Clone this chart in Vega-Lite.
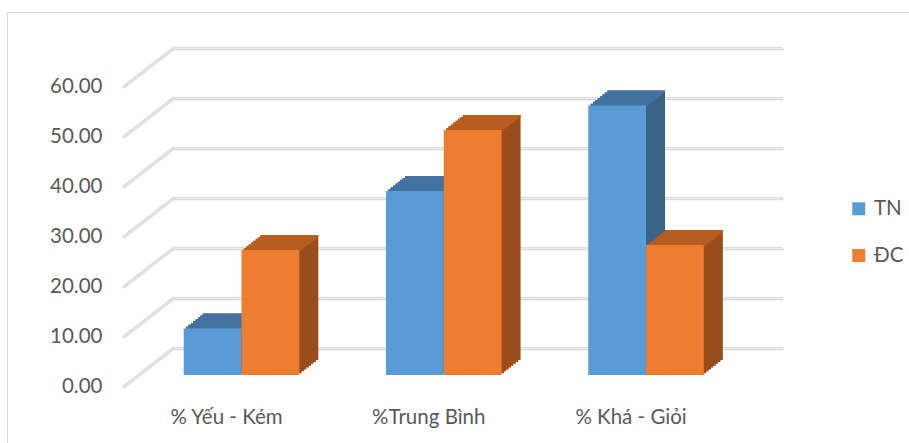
{
  "$schema": "https://vega.github.io/schema/vega-lite/v6.json",
  "autosize": "none",
  "width": 902,
  "height": 431,
  "padding": {"left": 7, "top": 12, "right": 0, "bottom": 0},
  "background": "#ffffff",
  "config": {
    "font": "Lato",
    "view": {"stroke": "#d9d9d9", "strokeWidth": 1},
    "axis": {"labelFont": "Lato", "labelFontSize": 20.5, "labelColor": "#595959", "domain": false, "ticks": false, "tickSize": 0, "grid": false}
  },
  "datasets": {
    "bars": [
      {"category": "% Yếu - Kém", "series": "TN", "value": 9.3},
      {"category": "%Trung Bình", "series": "TN", "value": 36.8},
      {"category": "% Khá - Giỏi", "series": "TN", "value": 53.9},
      {"category": "% Yếu - Kém", "series": "ĐC", "value": 25.0},
      {"category": "%Trung Bình", "series": "ĐC", "value": 49.0},
      {"category": "% Khá - Giỏi", "series": "ĐC", "value": 26.0}
    ],
    "grid": [
      {"value": 0}, {"value": 10}, {"value": 20}, {"value": 30}, {"value": 40}, {"value": 50}, {"value": 60}
    ]
  },
  "data": {"name": "bars"},
  "encoding": {
    "x": {
      "field": "category", "type": "nominal",
      "scale": {"domain": ["% Yếu - Kém", "%Trung Bình", "% Khá - Giỏi"], "paddingInner": 0.4286, "paddingOuter": 0.944, "align": 0.4235},
      "axis": {"orient": "bottom", "offset": -35.2, "labelPadding": 0, "labelAngle": 0, "title": null}
    },
    "y": {
      "field": "value", "type": "quantitative",
      "scale": {"domain": [-11.26, 74.94], "nice": false, "zero": false},
      "axis": {"orient": "left", "offset": -95, "labelPadding": 0, "values": [0, 10, 20, 30, 40, 50, 60], "format": ".2f", "title": null}
    }
  },
  "layer": [
    {"data": {"name": "grid"}, "mark": {"type": "rule", "xOffset": -53.5, "x2Offset": 151, "yOffset": -38, "stroke": "#d3d3d3", "strokeWidth": 3, "strokeCap": "round"},
     "encoding": {"x": {"datum": "% Yếu - Kém", "type": "nominal", "axis": {"orient": "bottom", "offset": -35.2, "labelPadding": 0, "labelAngle": 0, "title": null}}, "x2": {"datum": "% Khá - Giỏi"}}},
    {"data": {"name": "grid"}, "mark": {"type": "rule", "xOffset": -53.5, "x2Offset": 151, "yOffset": -38, "stroke": "#ededed", "strokeWidth": 1.2, "strokeCap": "round"},
     "encoding": {"x": {"datum": "% Yếu - Kém", "type": "nominal", "axis": {"orient": "bottom", "offset": -35.2, "labelPadding": 0, "labelAngle": 0, "title": null}}, "x2": {"datum": "% Khá - Giỏi"}}},
    {"data": {"name": "grid"}, "mark": {"type": "rule", "xOffset": -102.5, "x2Offset": -53.5, "y2Offset": -38, "stroke": "#d3d3d3", "strokeWidth": 3, "strokeCap": "round"},
     "encoding": {"x": {"datum": "% Yếu - Kém", "type": "nominal", "axis": {"orient": "bottom", "offset": -35.2, "labelPadding": 0, "labelAngle": 0, "title": null}}, "x2": {"datum": "% Yếu - Kém"}, "y2": {"field": "value"}}},
    {"data": {"name": "grid"}, "mark": {"type": "rule", "xOffset": -102.5, "x2Offset": -53.5, "y2Offset": -38, "stroke": "#ededed", "strokeWidth": 1.2, "strokeCap": "round"},
     "encoding": {"x": {"datum": "% Yếu - Kém", "type": "nominal", "axis": {"orient": "bottom", "offset": -35.2, "labelPadding": 0, "labelAngle": 0, "title": null}}, "x2": {"datum": "% Yếu - Kém"}, "y2": {"field": "value"}}},

    {"transform": [{"filter": "datum.series === 'TN'"}], "mark": {"type": "bar", "width": {"band": 0.5}, "xOffset": -11.525, "yOffset": -13.575, "y2Offset": -13.575, "color": "#3a6388"}, "encoding": {"y2": {"datum": 0}}},
    {"transform": [{"filter": "datum.series === 'TN'"}], "mark": {"type": "bar", "width": {"band": 0.5}, "xOffset": -9.15, "yOffset": -15.45, "y2Offset": -15.45, "color": "#3a6388"}, "encoding": {"y2": {"datum": 0}}},
    {"transform": [{"filter": "datum.series === 'TN'"}], "mark": {"type": "bar", "width": {"band": 0.5}, "xOffset": -6.775, "yOffset": -17.325, "y2Offset": -17.325, "color": "#3a6388"}, "encoding": {"y2": {"datum": 0}}},
    {"transform": [{"filter": "datum.series === 'TN'"}], "mark": {"type": "bar", "width": {"band": 0.5}, "xOffset": -4.4, "yOffset": -19.2, "y2Offset": -19.2, "color": "#3a6388"}, "encoding": {"y2": {"datum": 0}}},
    {"transform": [{"filter": "datum.series === 'TN'"}], "mark": {"type": "bar", "width": {"band": 0.5}, "xOffset": -2.025, "yOffset": -21.075, "y2Offset": -21.075, "color": "#3a6388"}, "encoding": {"y2": {"datum": 0}}},
    {"transform": [{"filter": "datum.series === 'TN'"}], "mark": {"type": "bar", "width": {"band": 0.5}, "xOffset": 0.35, "yOffset": -22.95, "y2Offset": -22.95, "color": "#3a6388"}, "encoding": {"y2": {"datum": 0}}},
    {"transform": [{"filter": "datum.series === 'TN'"}], "mark": {"type": "bar", "width": {"band": 0.5}, "xOffset": 2.725, "yOffset": -24.825, "y2Offset": -24.825, "color": "#3a6388"}, "encoding": {"y2": {"datum": 0}}},
    {"transform": [{"filter": "datum.series === 'TN'"}], "mark": {"type": "bar", "width": {"band": 0.5}, "xOffset": 5.1, "yOffset": -26.7, "y2Offset": -26.7, "color": "#3a6388"}, "encoding": {"y2": {"datum": 0}}},

    {"transform": [{"filter": "datum.series === 'ĐC'"}], "mark": {"type": "bar", "width": {"band": 0.5}, "xOffset": 46.275, "yOffset": -13.575, "y2Offset": -13.575, "color": "#9b4c1b"}, "encoding": {"y2": {"datum": 0}}},
    {"transform": [{"filter": "datum.series === 'ĐC'"}], "mark": {"type": "bar", "width": {"band": 0.5}, "xOffset": 48.65, "yOffset": -15.45, "y2Offset": -15.45, "color": "#9b4c1b"}, "encoding": {"y2": {"datum": 0}}},
    {"transform": [{"filter": "datum.series === 'ĐC'"}], "mark": {"type": "bar", "width": {"band": 0.5}, "xOffset": 51.025, "yOffset": -17.325, "y2Offset": -17.325, "color": "#9b4c1b"}, "encoding": {"y2": {"datum": 0}}},
    {"transform": [{"filter": "datum.series === 'ĐC'"}], "mark": {"type": "bar", "width": {"band": 0.5}, "xOffset": 53.4, "yOffset": -19.2, "y2Offset": -19.2, "color": "#9b4c1b"}, "encoding": {"y2": {"datum": 0}}},
    {"transform": [{"filter": "datum.series === 'ĐC'"}], "mark": {"type": "bar", "width": {"band": 0.5}, "xOffset": 55.775, "yOffset": -21.075, "y2Offset": -21.075, "color": "#9b4c1b"}, "encoding": {"y2": {"datum": 0}}},
    {"transform": [{"filter": "datum.series === 'ĐC'"}], "mark": {"type": "bar", "width": {"band": 0.5}, "xOffset": 58.15, "yOffset": -22.95, "y2Offset": -22.95, "color": "#9b4c1b"}, "encoding": {"y2": {"datum": 0}}},
    {"transform": [{"filter": "datum.series === 'ĐC'"}], "mark": {"type": "bar", "width": {"band": 0.5}, "xOffset": 60.525, "yOffset": -24.825, "y2Offset": -24.825, "color": "#9b4c1b"}, "encoding": {"y2": {"datum": 0}}},
    {"transform": [{"filter": "datum.series === 'ĐC'"}], "mark": {"type": "bar", "width": {"band": 0.5}, "xOffset": 62.9, "yOffset": -26.7, "y2Offset": -26.7, "color": "#9b4c1b"}, "encoding": {"y2": {"datum": 0}}},

    {"transform": [{"filter": "datum.series === 'TN'"}], "mark": {"type": "bar", "width": {"band": 0.5}, "xOffset": -11.525, "yOffset": -13.575, "y2Offset": -11.075, "color": "#42729f"}, "encoding": {"y2": {"field": "value"}}},
    {"transform": [{"filter": "datum.series === 'TN'"}], "mark": {"type": "bar", "width": {"band": 0.5}, "xOffset": -9.15, "yOffset": -15.45, "y2Offset": -12.95, "color": "#42729f"}, "encoding": {"y2": {"field": "value"}}},
    {"transform": [{"filter": "datum.series === 'TN'"}], "mark": {"type": "bar", "width": {"band": 0.5}, "xOffset": -6.775, "yOffset": -17.325, "y2Offset": -14.825, "color": "#42729f"}, "encoding": {"y2": {"field": "value"}}},
    {"transform": [{"filter": "datum.series === 'TN'"}], "mark": {"type": "bar", "width": {"band": 0.5}, "xOffset": -4.4, "yOffset": -19.2, "y2Offset": -16.7, "color": "#42729f"}, "encoding": {"y2": {"field": "value"}}},
    {"transform": [{"filter": "datum.series === 'TN'"}], "mark": {"type": "bar", "width": {"band": 0.5}, "xOffset": -2.025, "yOffset": -21.075, "y2Offset": -18.575, "color": "#42729f"}, "encoding": {"y2": {"field": "value"}}},
    {"transform": [{"filter": "datum.series === 'TN'"}], "mark": {"type": "bar", "width": {"band": 0.5}, "xOffset": 0.35, "yOffset": -22.95, "y2Offset": -20.45, "color": "#42729f"}, "encoding": {"y2": {"field": "value"}}},
    {"transform": [{"filter": "datum.series === 'TN'"}], "mark": {"type": "bar", "width": {"band": 0.5}, "xOffset": 2.725, "yOffset": -24.825, "y2Offset": -22.325, "color": "#42729f"}, "encoding": {"y2": {"field": "value"}}},
    {"transform": [{"filter": "datum.series === 'TN'"}], "mark": {"type": "bar", "width": {"band": 0.5}, "xOffset": 5.1, "yOffset": -26.7, "y2Offset": -24.2, "color": "#42729f"}, "encoding": {"y2": {"field": "value"}}},

    {"transform": [{"filter": "datum.series === 'ĐC'"}], "mark": {"type": "bar", "width": {"band": 0.5}, "xOffset": 46.275, "yOffset": -13.575, "y2Offset": -11.075, "color": "#b95d20"}, "encoding": {"y2": {"field": "value"}}},
    {"transform": [{"filter": "datum.series === 'ĐC'"}], "mark": {"type": "bar", "width": {"band": 0.5}, "xOffset": 48.65, "yOffset": -15.45, "y2Offset": -12.95, "color": "#b95d20"}, "encoding": {"y2": {"field": "value"}}},
    {"transform": [{"filter": "datum.series === 'ĐC'"}], "mark": {"type": "bar", "width": {"band": 0.5}, "xOffset": 51.025, "yOffset": -17.325, "y2Offset": -14.825, "color": "#b95d20"}, "encoding": {"y2": {"field": "value"}}},
    {"transform": [{"filter": "datum.series === 'ĐC'"}], "mark": {"type": "bar", "width": {"band": 0.5}, "xOffset": 53.4, "yOffset": -19.2, "y2Offset": -16.7, "color": "#b95d20"}, "encoding": {"y2": {"field": "value"}}},
    {"transform": [{"filter": "datum.series === 'ĐC'"}], "mark": {"type": "bar", "width": {"band": 0.5}, "xOffset": 55.775, "yOffset": -21.075, "y2Offset": -18.575, "color": "#b95d20"}, "encoding": {"y2": {"field": "value"}}},
    {"transform": [{"filter": "datum.series === 'ĐC'"}], "mark": {"type": "bar", "width": {"band": 0.5}, "xOffset": 58.15, "yOffset": -22.95, "y2Offset": -20.45, "color": "#b95d20"}, "encoding": {"y2": {"field": "value"}}},
    {"transform": [{"filter": "datum.series === 'ĐC'"}], "mark": {"type": "bar", "width": {"band": 0.5}, "xOffset": 60.525, "yOffset": -24.825, "y2Offset": -22.325, "color": "#b95d20"}, "encoding": {"y2": {"field": "value"}}},
    {"transform": [{"filter": "datum.series === 'ĐC'"}], "mark": {"type": "bar", "width": {"band": 0.5}, "xOffset": 62.9, "yOffset": -26.7, "y2Offset": -24.2, "color": "#b95d20"}, "encoding": {"y2": {"field": "value"}}},

    {"transform": [{"filter": "datum.series === 'TN'"}], "mark": {"type": "bar", "width": {"band": 0.5}, "xOffset": -13.9, "yOffset": -11.7, "y2Offset": -11.7},
     "encoding": {"y2": {"datum": 0},
       "color": {"field": "series", "type": "nominal", "scale": {"domain": ["TN", "ĐC"], "range": ["#5b9bd5", "#ed7d31"]},
         "legend": {"orient": "none", "legendX": 841.5, "legendY": 186.5, "title": null, "direction": "vertical", "symbolType": "square", "symbolSize": 169, "symbolStrokeWidth": 0, "labelFont": "Lato", "labelFontSize": 20.5, "labelColor": "#595959", "rowPadding": 25.8, "labelOffset": 5, "padding": 0}}}},
    {"transform": [{"filter": "datum.series === 'ĐC'"}], "mark": {"type": "bar", "width": {"band": 0.5}, "xOffset": 43.9, "yOffset": -11.7, "y2Offset": -11.7},
     "encoding": {"y2": {"datum": 0},
       "color": {"field": "series", "type": "nominal", "scale": {"domain": ["TN", "ĐC"], "range": ["#5b9bd5", "#ed7d31"]},
         "legend": {"orient": "none", "legendX": 841.5, "legendY": 186.5, "title": null, "direction": "vertical", "symbolType": "square", "symbolSize": 169, "symbolStrokeWidth": 0, "labelFont": "Lato", "labelFontSize": 20.5, "labelColor": "#595959", "rowPadding": 25.8, "labelOffset": 5, "padding": 0}}}}
  ]
}
